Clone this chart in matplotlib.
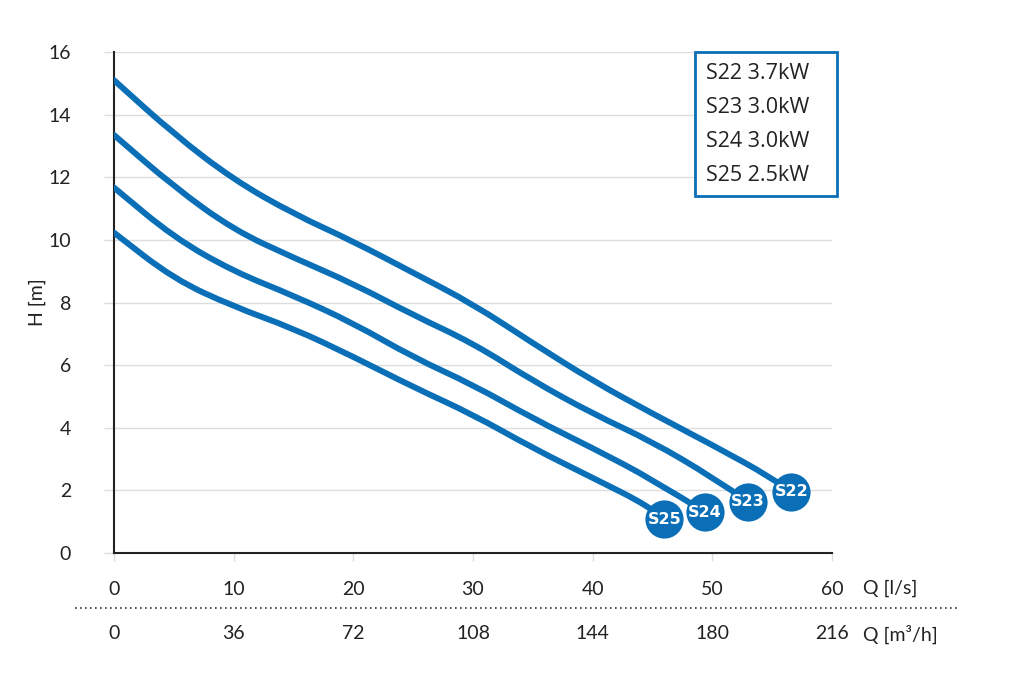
import matplotlib.pyplot as plt
from matplotlib.lines import Line2D
from matplotlib.path import Path
from matplotlib.patches import PathPatch

# pump curves: flow Q [l/s] -> head H [m]
q_s22 = [0, 5, 10, 15, 20, 25, 30, 35, 40, 45, 50, 55, 56.6]
h_s22 = [15.1, 13.38, 11.92, 10.83, 9.95, 8.95, 7.95, 6.7, 5.5, 4.45, 3.45, 2.4, 1.96]

q_s23 = [0, 5, 10, 15, 20, 25, 30, 35, 40, 45, 50, 53.0]
h_s23 = [13.35, 11.7, 10.32, 9.43, 8.6, 7.6, 6.7, 5.5, 4.45, 3.55, 2.42, 1.64]

q_s24 = [0, 5, 10, 15, 20, 25, 30, 35, 40, 45, 49.4]
h_s24 = [11.67, 10.08, 8.99, 8.22, 7.34, 6.25, 5.37, 4.3, 3.35, 2.35, 1.30]

q_s25 = [0, 5, 10, 15, 20, 25, 30, 35, 40, 44.8, 46.0]
h_s25 = [10.23, 8.75, 7.87, 7.17, 6.27, 5.3, 4.42, 3.35, 2.4, 1.48, 1.08]

names = ['S22', 'S23', 'S24', 'S25']
legend_labels = ['S22 3.7kW', 'S23 3.0kW', 'S24 3.0kW', 'S25 2.5kW']

q_ticks = [0, 10, 20, 30, 40, 50, 60]
m3h_ticks = [0, 36, 72, 108, 144, 180, 216]
h_ticks = [0, 2, 4, 6, 8, 10, 12, 14, 16]

blue = '#0a6fb7'
grid_c = '#dddddd'
txt_c = '#222222'

plt.rcParams['font.family'] = ['Lato', 'DejaVu Sans']


def smooth_path(q, h):
    # quadratic bezier through the midpoints, the read points act as control points
    pts = list(zip(q, h))
    verts = [pts[0], ((pts[0][0] + pts[1][0]) / 2, (pts[0][1] + pts[1][1]) / 2)]
    codes = [Path.MOVETO, Path.LINETO]
    for i in range(1, len(pts) - 1):
        nxt = pts[i + 1]
        mid = ((pts[i][0] + nxt[0]) / 2, (pts[i][1] + nxt[1]) / 2)
        if i == len(pts) - 2:
            mid = nxt
        verts += [pts[i], mid]
        codes += [Path.CURVE3, Path.CURVE3]
    return Path(verts, codes)


fig = plt.figure(figsize=(10.15, 6.79), dpi=100)
ax = fig.add_axes([114 / 1015, 1 - 553 / 679, 718 / 1015, 501 / 679])

curves = [(q_s22, h_s22), (q_s23, h_s23), (q_s24, h_s24), (q_s25, h_s25)]
for name, (q, h) in zip(names, curves):
    ax.add_patch(PathPatch(smooth_path(q, h), facecolor='none', edgecolor=blue, lw=4.3,
                           capstyle='round', joinstyle='round', zorder=3))
    ax.plot(q[-1], h[-1], 'o', ms=27.5, color=blue, mew=0, zorder=4)
    ax.text(q[-1], h[-1], name, color='white', fontsize=11.5, fontweight='bold',
            ha='center', va='center', zorder=5, family=['DejaVu Sans'])

ax.set_xlim(0, 60)
ax.set_ylim(0, 16)
ax.set_xticks(q_ticks)
ax.set_yticks(h_ticks)
ax.tick_params(axis='x', length=6, width=1, color=grid_c, pad=14, labelsize=14, labelcolor=txt_c)
ax.tick_params(axis='y', length=7, width=1, color=grid_c, pad=24, labelsize=14, labelcolor=txt_c)
ax.grid(True, axis='y', color=grid_c, lw=1)
ax.set_axisbelow(True)

for s in ['top', 'right']:
    ax.spines[s].set_visible(False)
for s in ['left', 'bottom']:
    ax.spines[s].set_color('#222222')
    ax.spines[s].set_linewidth(1.5)
    ax.spines[s].set_zorder(2)

ax.set_ylabel('H [m]', fontsize=14, color=txt_c, labelpad=2)

# second flow scale in m3/h
sec = ax.secondary_xaxis(-0.111, functions=(lambda x: x * 3.6, lambda x: x / 3.6))
sec.set_xticks(m3h_ticks)
sec.tick_params(length=0, pad=12, labelsize=14, labelcolor=txt_c)
sec.spines['bottom'].set_visible(False)

ax.text(62.6, -0.07, 'Q [l/s]', transform=ax.get_xaxis_transform(), fontsize=14,
        color=txt_c, ha='left', va='center', clip_on=False)
ax.text(62.6, -0.163, 'Q [m³/h]', transform=ax.get_xaxis_transform(), fontsize=14,
        color=txt_c, ha='left', va='center', clip_on=False)

fig.add_artist(Line2D([75 / 1015, 960 / 1015], [1 - 608 / 679] * 2, color='#333333',
                      lw=1.2, ls=(0, (1, 2))))

# invisible handles after the text give the wider right margin of the box
handles = [Line2D([], [], lw=0) for _ in legend_labels]
leg = ax.legend(handles, legend_labels, loc='upper right',
                bbox_to_anchor=(837 / 1015, 1 - 52 / 679), bbox_transform=fig.transFigure,
                markerfirst=False, handlelength=0.8, handletextpad=0,
                fancybox=False, framealpha=1, borderaxespad=0, borderpad=0.5,
                labelspacing=0.6, prop={'family': 'Open Sans', 'size': 15.5})
leg.get_frame().set_edgecolor(blue)
leg.get_frame().set_linewidth(2)
for t in leg.get_texts():
    t.set_color(txt_c)

fig.savefig('out.png', dpi=100)
